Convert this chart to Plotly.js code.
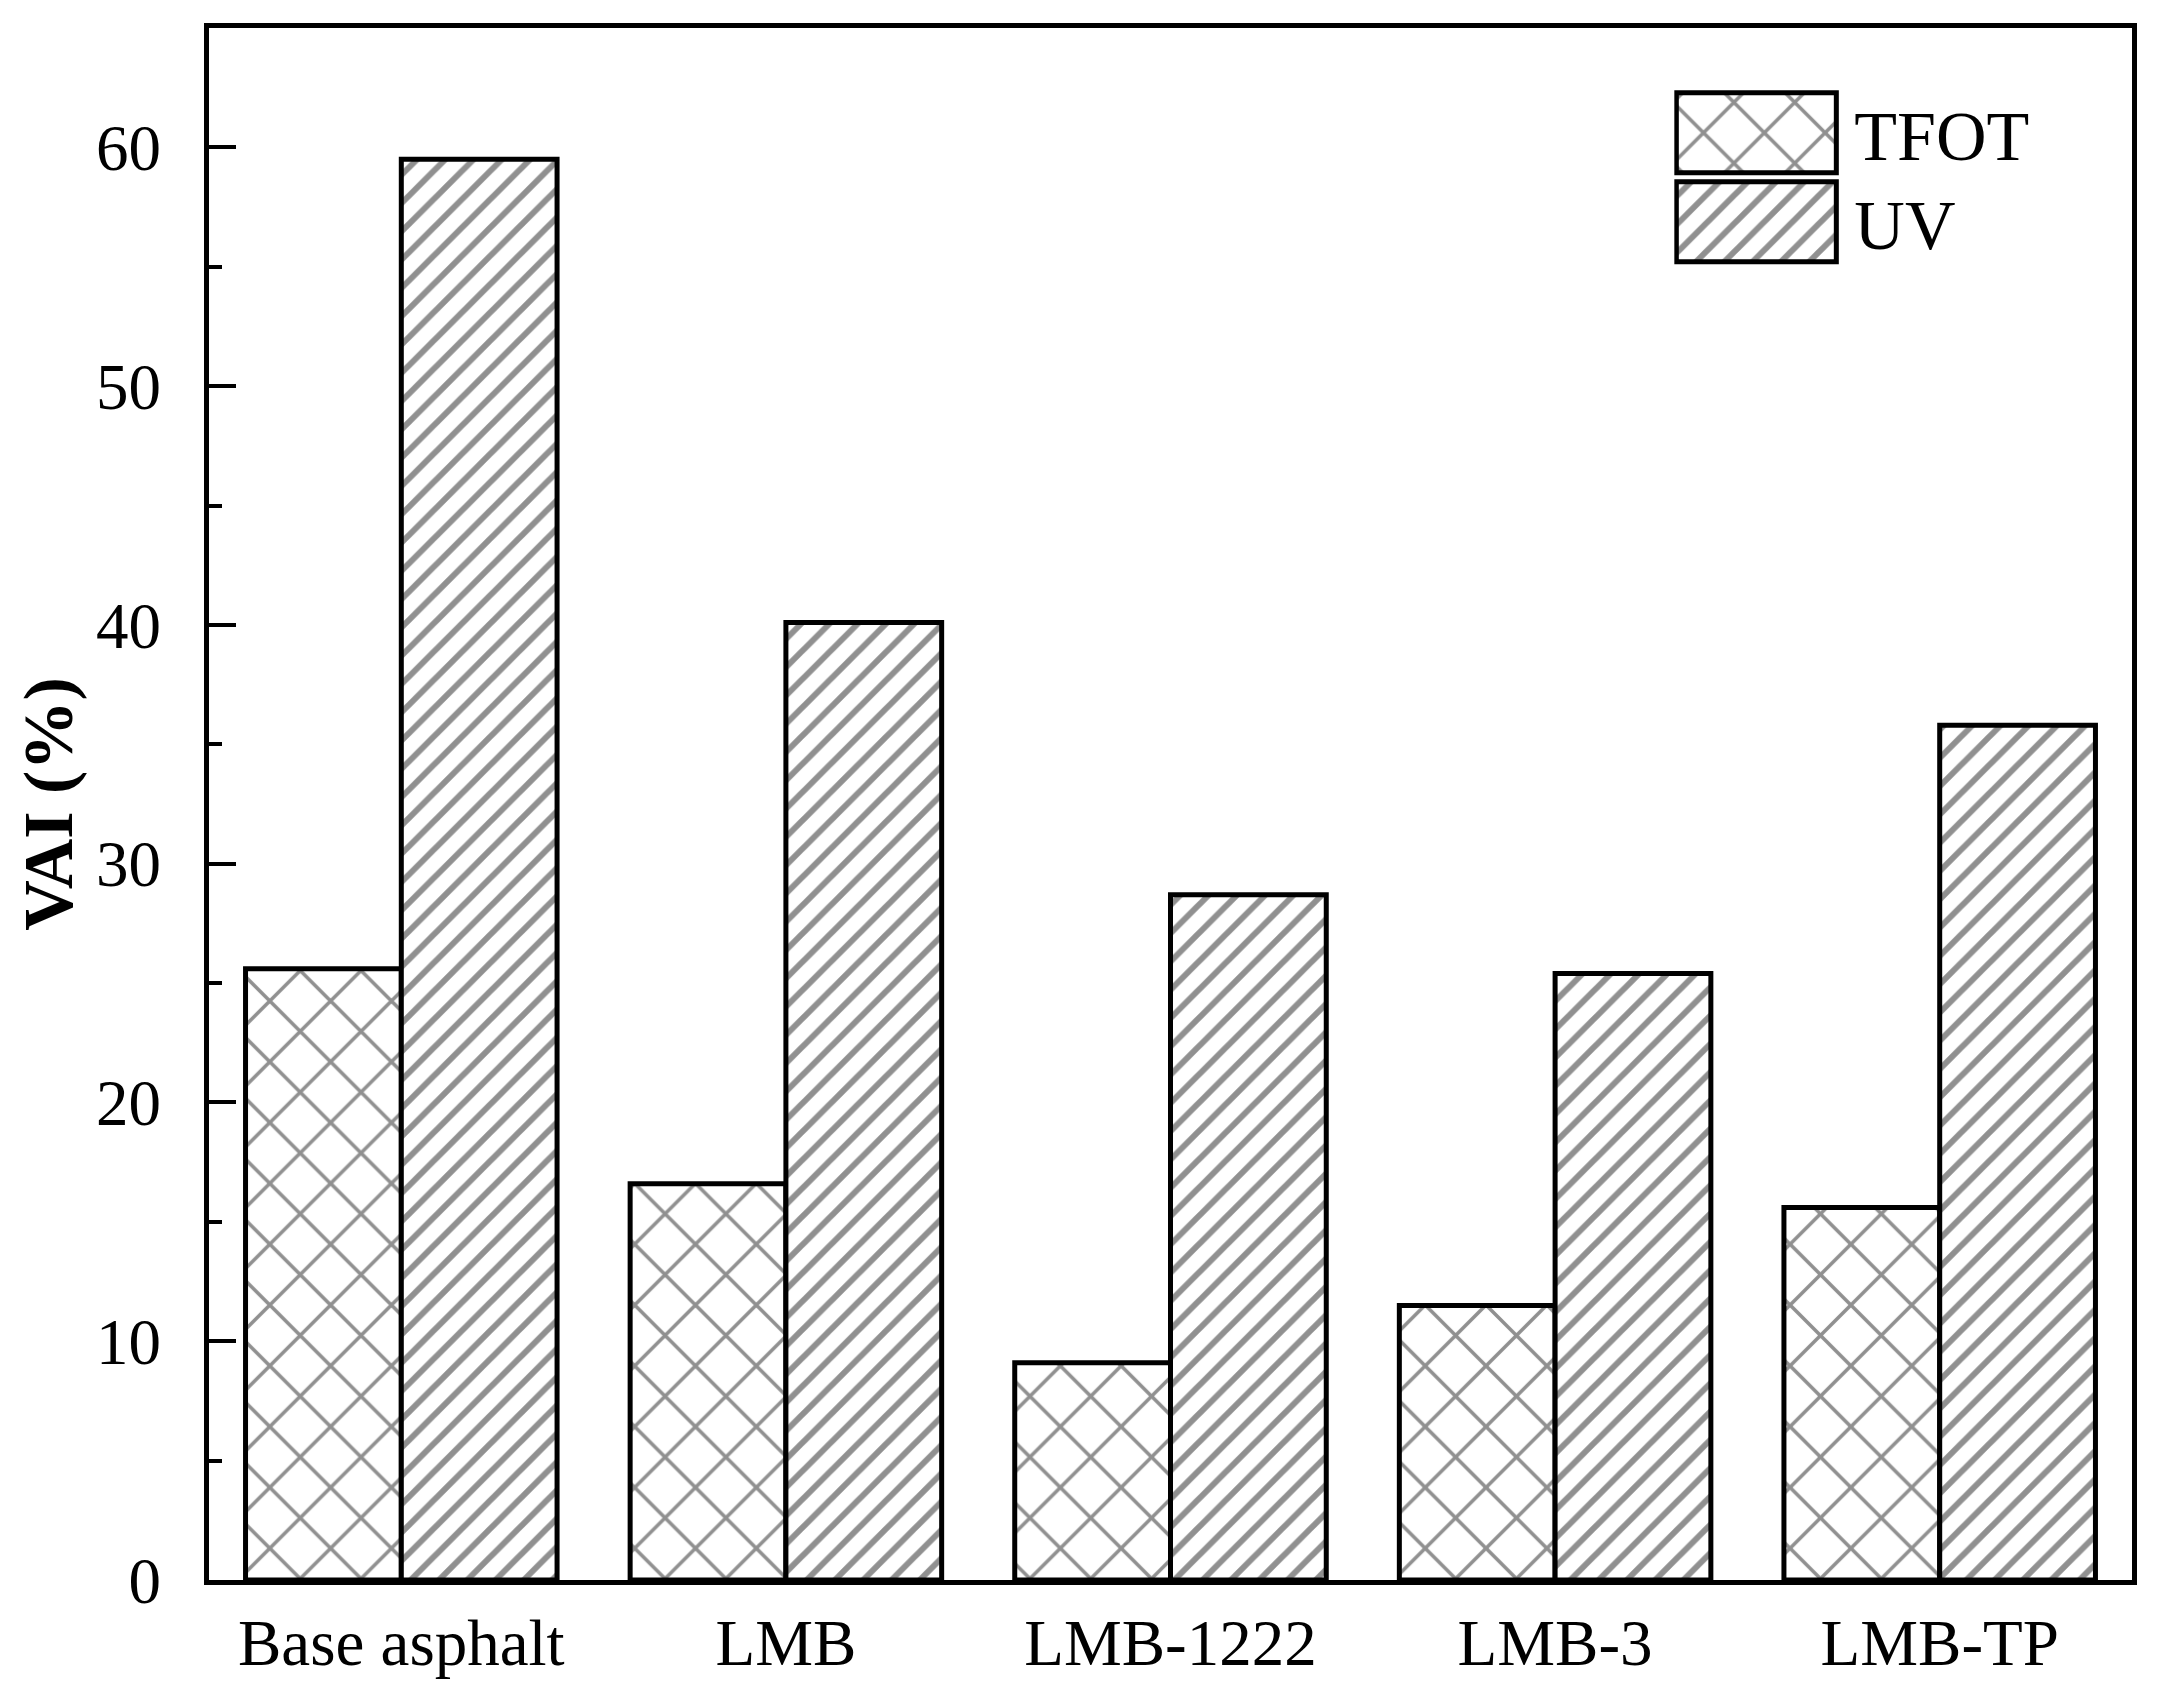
<!DOCTYPE html>
<html>
<head>
<meta charset="utf-8">
<script src="https://cdn.plot.ly/plotly-3.0.1.min.js"></script>
<style>
  html, body { margin: 0; padding: 0; background: #fff; }
  #chart { width: 2160px; height: 1703px; }
</style>
</head>
<body>
<div id="chart"></div>
<script>
const categories = ["Base asphalt", "LMB", "LMB-1222", "LMB-3", "LMB-TP"];
const tfotValues = [25.6, 16.6, 9.1, 11.5, 15.6];
const uvValues = [59.5, 40.1, 28.7, 25.4, 35.8];
const seriesNames = ["TFOT", "UV"];

const FONT = "Liberation Serif, Times New Roman, serif";

const traces = [
  {
    type: "bar",
    name: seriesNames[0],
    x: categories,
    y: tfotValues,
    marker: {
      color: "#ffffff",
      line: { color: "#000000", width: 5 },
      pattern: { shape: "x", size: 43, solidity: 0.16, fgcolor: "#222222", bgcolor: "#ffffff", fillmode: "overlay" }
    }
  },
  {
    type: "bar",
    name: seriesNames[1],
    x: categories,
    y: uvValues,
    marker: {
      color: "#ffffff",
      line: { color: "#000000", width: 5 },
      pattern: { shape: "/", size: 20, solidity: 0.3, fgcolor: "#222222", bgcolor: "#ffffff", fillmode: "overlay" }
    }
  },
  {
    // empty helper trace so the overlaid axis (long major ticks) is drawn
    type: "scatter",
    mode: "none",
    x: categories,
    y: uvValues,
    yaxis: "y2",
    showlegend: false,
    hoverinfo: "skip"
  }
];

const layout = {
  width: 2160,
  height: 1703,
  paper_bgcolor: "#ffffff",
  plot_bgcolor: "#ffffff",
  margin: { l: 209, r: 28, t: 28, b: 123, pad: 0 },
  barmode: "group",
  bargap: 0.19,
  bargroupgap: 0,
  showlegend: true,
  font: { family: FONT, color: "#000000", size: 65 },
  legend: {
    x: 0.7620, y: 0.966, xanchor: "left", yanchor: "top",
    font: { family: FONT, size: 70, color: "#000000" },
    bgcolor: "rgba(0,0,0,0)",
    borderwidth: 0,
    itemwidth: 170,
    tracegroupgap: 0
  },
  xaxis: {
    type: "category",
    range: [-0.5, 4.5],
    showline: true, linecolor: "#000000", linewidth: 5, mirror: true,
    ticks: "", showgrid: false, zeroline: false,
    tickfont: { family: FONT, size: 65, color: "#000000" },
    ticklabelstandoff: 2
  },
  yaxis: {
    range: [0, 65],
    tickmode: "linear", tick0: 0, dtick: 10,
    showline: true, linecolor: "#000000", linewidth: 5, mirror: true,
    ticks: "inside", ticklen: 27, tickwidth: 4, tickcolor: "#000000",
    minor: { tickmode: "linear", tick0: 0, dtick: 5, ticks: "inside", ticklen: 13, tickwidth: 4, tickcolor: "#000000", showgrid: false },
    showgrid: false, zeroline: false,
    tickfont: { family: FONT, size: 65, color: "#000000" },
    ticklabelstandoff: 30,
    title: { text: "<b>VAI (%)</b>", font: { family: FONT, size: 70, color: "#000000" }, standoff: 2 }
  },
  yaxis2: {
    overlaying: "y",
    side: "left",
    anchor: "x",
    range: [0, 65],
    tickmode: "linear", tick0: 0, dtick: 10,
    ticks: "inside", ticklen: 27, tickwidth: 4, tickcolor: "#000000",
    showticklabels: false, showline: false, showgrid: false, zeroline: false
  }
};

Plotly.newPlot("chart", traces, layout, { displayModeBar: false, staticPlot: true }).then(function () {
  const gd = document.getElementById("chart");
  // enlarge the legend swatches and give them the same fill pattern as the bars
  const barTraces = gd.querySelectorAll(".barlayer .trace");
  const legendItems = gd.querySelectorAll(".legend .traces");
  legendItems.forEach(function (item, i) {
    const p = item.querySelector(".legendpoints path");
    if (!p) return;
    p.setAttribute("d", "M72,40H-88V-40H72Z");
    p.style.strokeWidth = "5px";
    const barPath = barTraces[i] ? barTraces[i].querySelector(".point path") : null;
    if (barPath && barPath.style.fill) p.style.fill = barPath.style.fill;
    if (i === 1) {
      const t = item.getAttribute("transform") || "";
      const m = t.match(/translate\(([-\d.]+),\s*([-\d.]+)\)/);
      if (m) item.setAttribute("transform", "translate(" + m[1] + "," + (parseFloat(m[2]) - 5) + ")");
    }
  });
});
</script>
</body>
</html>
